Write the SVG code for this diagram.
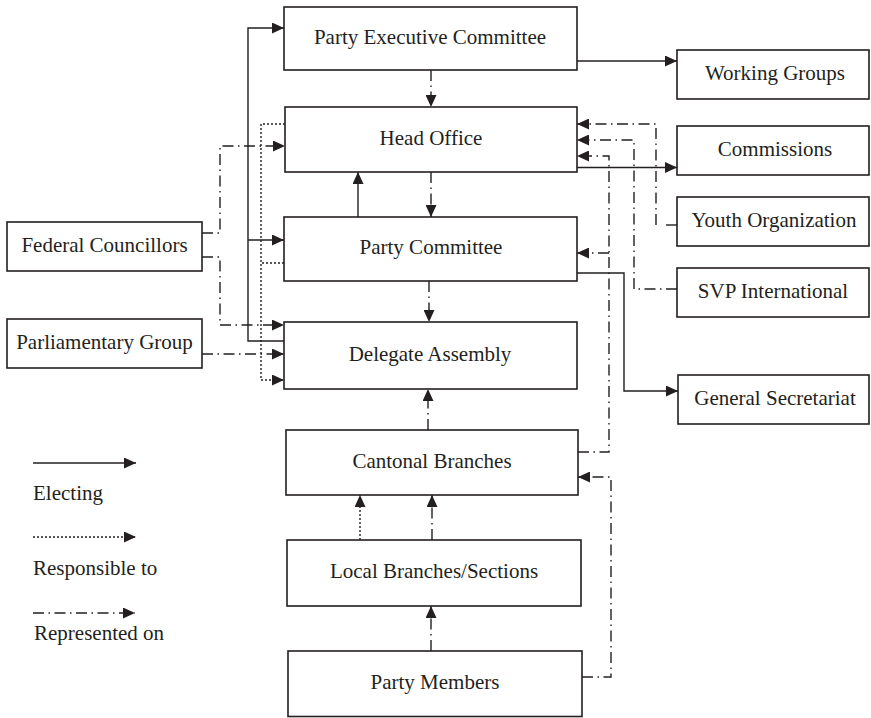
<svg xmlns="http://www.w3.org/2000/svg" width="871" height="718" viewBox="0 0 871 718">
<style>
.box{fill:#fff;stroke:#231f20;stroke-width:1.6}
.t{font-family:"Liberation Serif","Times New Roman",serif;font-size:21px;fill:#231f20;text-anchor:middle}
.lt{font-family:"Liberation Serif","Times New Roman",serif;font-size:21px;fill:#231f20}
.c{fill:none;stroke:#231f20;stroke-width:1.4}
.dot{stroke-dasharray:2 2}
.dd{stroke-dasharray:11 4.5 1.5 4.5}
.a{marker-end:url(#ah)}
</style>
<defs>
<marker id="ah" markerUnits="userSpaceOnUse" markerWidth="12" markerHeight="11" refX="12" refY="5.5" orient="auto" viewBox="0 0 12 11">
<path d="M0,0 L12,5.5 L0,11 z" fill="#231f20"/>
</marker>
</defs>
<rect width="871" height="718" fill="#fff"/>

<g id="connectors">
<!-- Electing -->
<path class="c a" d="M284,341 H248 V28 H284"/>
<path class="c a" d="M248,240 H284"/>
<path class="c a" d="M358,217 V172"/>
<path class="c a" d="M577,61 H677"/>
<path class="c a" d="M577,167.5 H677"/>
<path class="c a" d="M577,273 H624 V391 H678"/>
<!-- Represented on -->
<path class="c dd a" d="M431,70 V107"/>
<path class="c dd a" d="M431,172 V217"/>
<path class="c dd a" d="M429,281 V322"/>
<path class="c dd a" d="M428,430 V389"/>
<path class="c dd a" d="M432,540 V495"/>
<path class="c dd a" d="M431,651 V606"/>
<path class="c dd a" d="M202,233 H220 V146 H285"/>
<path class="c dd a" d="M202,257 H220 V325 H284"/>
<path class="c dd a" d="M202,354 H284"/>
<path class="c dd a" d="M656,225 V124 H577"/>
<path class="c" d="M666,225 H677" stroke-width="2.6"/>
<path class="c dd a" d="M677,289 H634 V140 H577"/>
<path class="c dd a" d="M578,452 H609 V156 H577"/>
<path class="c dd a" d="M609,253 H577"/>
<path class="c dd a" d="M582,677 H611 V477 H578"/>
<!-- Responsible to -->
<path class="c dot a" d="M285,124 H261 V380 H284"/>
<path class="c dot" d="M284,263 H261"/>
<path class="c dot a" d="M360,540 V495"/>
</g>

<g id="n-exec"><rect class="box" x="284" y="7" width="293" height="63"/><text class="t" x="430" y="44">Party Executive Committee</text></g>
<g id="n-head"><rect class="box" x="285" y="107" width="292" height="65"/><text class="t" x="431" y="145">Head Office</text></g>
<g id="n-pcomm"><rect class="box" x="284" y="217" width="293" height="64"/><text class="t" x="431" y="254">Party Committee</text></g>
<g id="n-deleg"><rect class="box" x="284" y="322" width="293" height="67"/><text class="t" x="430" y="361">Delegate Assembly</text></g>
<g id="n-canton"><rect class="box" x="286" y="430" width="292" height="65"/><text class="t" x="432" y="468">Cantonal Branches</text></g>
<g id="n-local"><rect class="box" x="287" y="540" width="294" height="66"/><text class="t" x="434" y="578">Local Branches/Sections</text></g>
<g id="n-members"><rect class="box" x="288" y="651" width="294" height="65.5"/><text class="t" x="435" y="689">Party Members</text></g>
<g id="n-working"><rect class="box" x="677" y="50" width="192" height="49"/><text class="t" x="775" y="80">Working Groups</text></g>
<g id="n-commissions"><rect class="box" x="677" y="126" width="192" height="49"/><text class="t" x="775" y="156">Commissions</text></g>
<g id="n-youth"><rect class="box" x="677" y="197" width="192" height="49"/><text class="t" x="774" y="227">Youth Organization</text></g>
<g id="n-svp"><rect class="box" x="677" y="268" width="192" height="49"/><text class="t" x="773" y="298">SVP International</text></g>
<g id="n-gensec"><rect class="box" x="678" y="375" width="191" height="49"/><text class="t" x="775" y="405">General Secretariat</text></g>
<g id="n-federal"><rect class="box" x="7" y="222" width="195" height="49"/><text class="t" x="104.5" y="252">Federal Councillors</text></g>
<g id="n-parl"><rect class="box" x="7" y="319" width="195" height="49"/><text class="t" x="104.5" y="349">Parliamentary Group</text></g>

<g id="legend">
<path class="c a" d="M33,463 H136"/>
<text class="lt" x="33" y="500">Electing</text>
<path class="c dot a" d="M33,537 H136"/>
<text class="lt" x="33" y="575">Responsible to</text>
<path class="c dd a" d="M33,613 H135"/>
<text class="lt" x="34" y="640">Represented on</text>
</g>
</svg>
